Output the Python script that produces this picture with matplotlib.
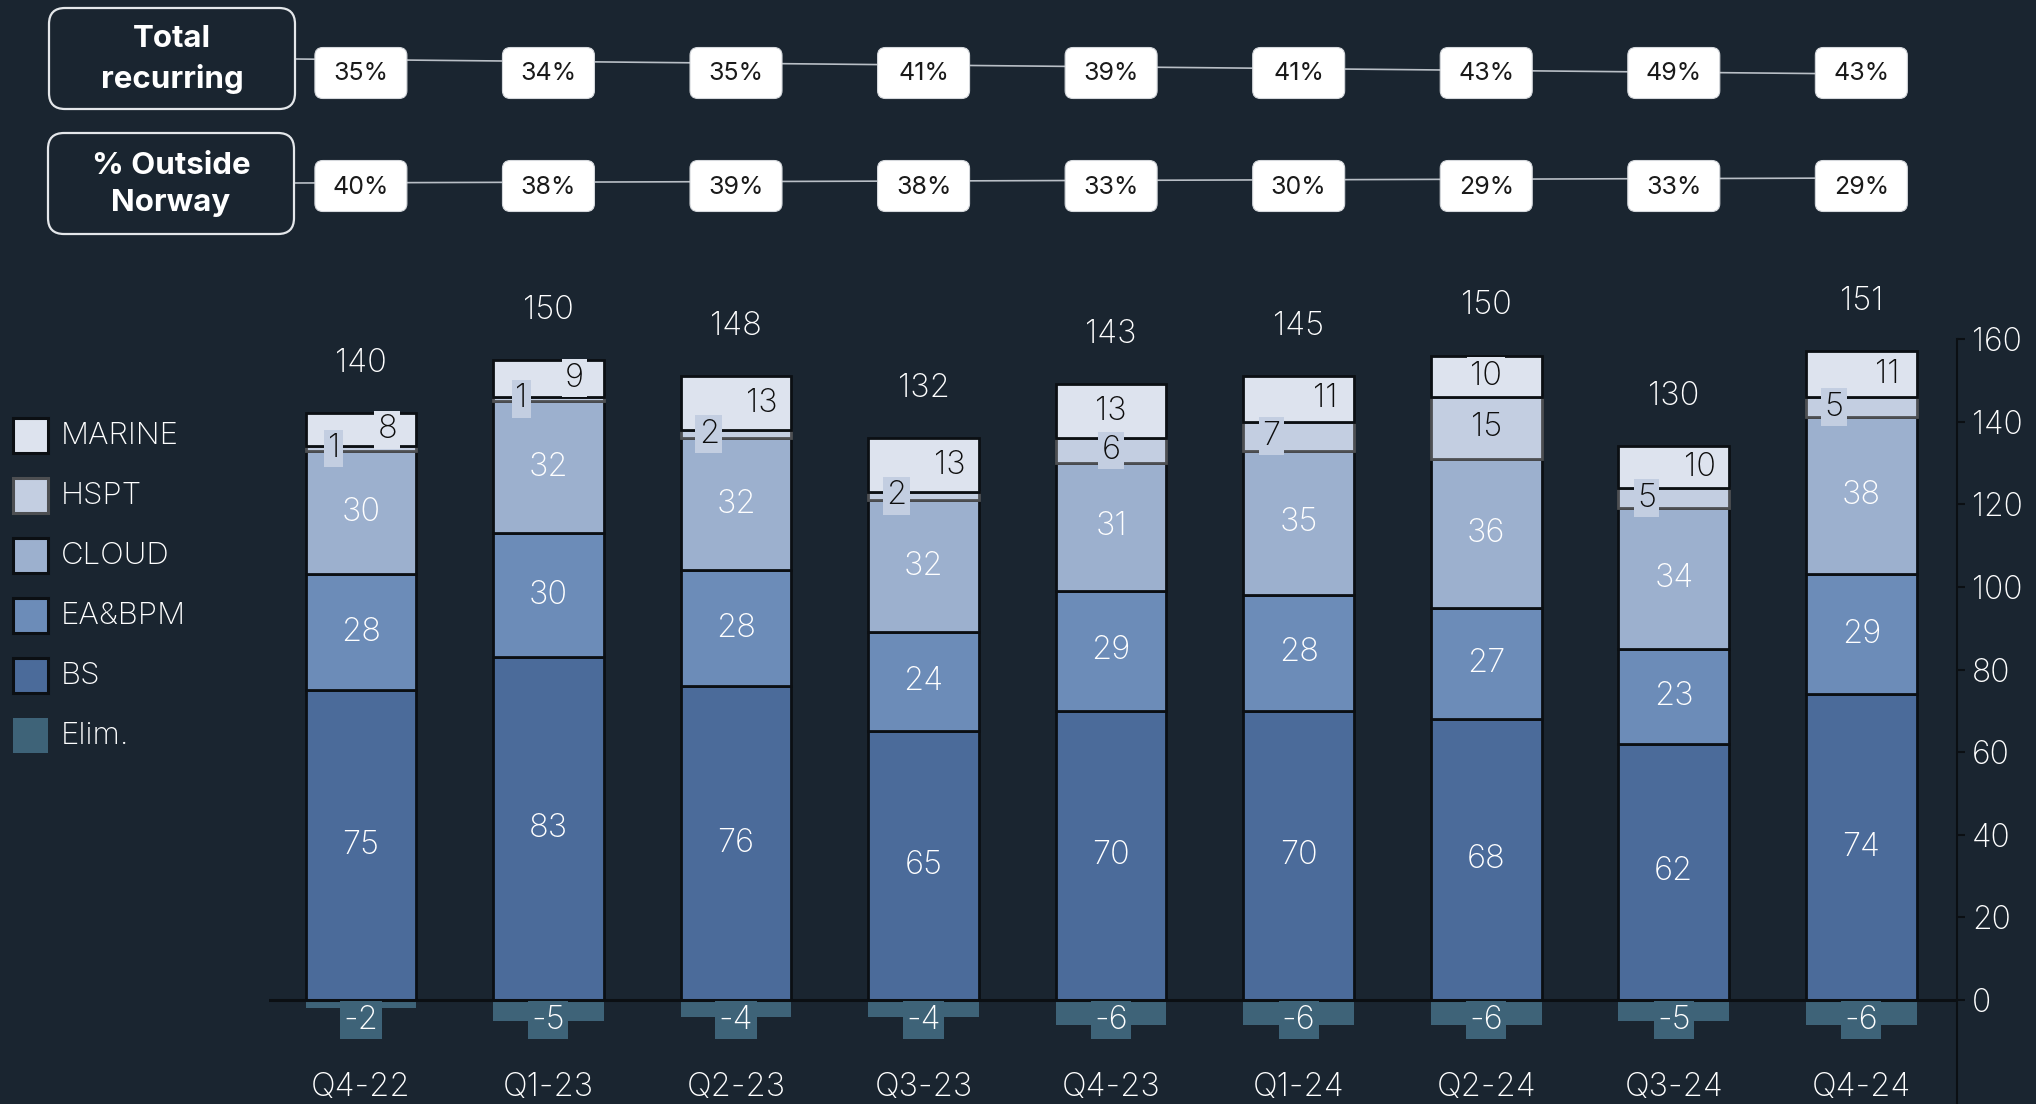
import matplotlib
matplotlib.use("Agg")
import matplotlib.pyplot as plt
from matplotlib.patches import FancyBboxPatch, Rectangle
import numpy as np

# ---------------- data ----------------
quarters = ["Q4-22", "Q1-23", "Q2-23", "Q3-23", "Q4-23", "Q1-24", "Q2-24", "Q3-24", "Q4-24"]
bs = [75, 83, 76, 65, 70, 70, 68, 62, 74]
ea_bpm = [28, 30, 28, 24, 29, 28, 27, 23, 29]
cloud = [30, 32, 32, 32, 31, 35, 36, 34, 38]
hspt = [1, 1, 2, 2, 6, 7, 15, 5, 5]
marine = [8, 9, 13, 13, 13, 11, 10, 10, 11]
elim = [-2, -5, -4, -4, -6, -6, -6, -5, -6]
totals = [140, 150, 148, 132, 143, 145, 150, 130, 151]
total_recurring = [35, 34, 35, 41, 39, 41, 43, 49, 43]
outside_norway = [40, 38, 39, 38, 33, 30, 29, 33, 29]

# ---------------- layout / style ----------------
hspt_dx = [-0.145, -0.145, -0.145, -0.145, 0.0, -0.145, 0.0, -0.145, -0.145]
marine_dx = [0.14, 0.14, 0.14, 0.14, 0.0, 0.14, 0.0, 0.14, 0.14]

W, H = 2036, 1104
BG = "#1a2530"
C_MARINE = "#dde3ee"
C_HSPT = "#c3cee1"
C_CLOUD = "#9cb0ce"
C_EA = "#6c8cb8"
C_BS = "#4b6b9a"
C_ELIM = "#3e6378"
EDGE = "#0b0f13"
EDGE_HSPT = "#4d4f52"
WHITE = "#ffffff"
DARK = "#0d0d0d"
FONT = "Inter"
LW = "light"

plt.rcParams["font.family"] = [FONT, "DejaVu Sans"]

fig = plt.figure(figsize=(W / 100, H / 100), dpi=100, facecolor=BG)

ymin, ymax = -25, 160
ppu = (1000 - 339) / 160.0
bottom_px = 1000 + (-ymin) * ppu
ax = fig.add_axes([269 / W, (H - bottom_px) / H, (1957 - 269) / W, (bottom_px - 339) / H])
ax.set_facecolor(BG)
ax.set_xlim(-0.49, 8.51)
ax.set_ylim(ymin, ymax)

x = np.arange(len(quarters))
bw = 0.59

ax.bar(x, elim, bw, color=C_ELIM, edgecolor="none", zorder=2)

series = [(bs, C_BS, EDGE), (ea_bpm, C_EA, EDGE), (cloud, C_CLOUD, EDGE),
          (hspt, C_HSPT, EDGE_HSPT), (marine, C_MARINE, EDGE)]
bottom = np.zeros(len(x))
centers = []
for vals, col, ec in series:
    v = np.array(vals, dtype=float)
    ax.bar(x, v, bw, bottom=bottom, color=col, edgecolor=ec, linewidth=2.0, zorder=3)
    centers.append(bottom + v / 2)
    bottom = bottom + v
top = bottom

ax.axhline(0, color=EDGE, lw=2.2, zorder=4)

fs = 23.5
for i in x:
    for k, vals in enumerate([bs, ea_bpm, cloud]):
        ax.text(i, centers[k][i], str(vals[i]), ha="center", va="center",
                color=WHITE, fontsize=fs, fontweight=LW, zorder=6)
    ax.text(i + hspt_dx[i], centers[3][i], str(hspt[i]), ha="center", va="center",
            color=DARK, fontsize=fs, fontweight=LW, zorder=7,
            bbox=dict(boxstyle="square,pad=0.1", fc=C_HSPT, ec="none"))
    ax.text(i + marine_dx[i], centers[4][i], str(marine[i]), ha="center", va="center",
            color=DARK, fontsize=fs, fontweight=LW, zorder=7,
            bbox=dict(boxstyle="square,pad=0.1", fc=C_MARINE, ec="none"))
    ax.text(i, top[i] + 12.0, str(totals[i]), ha="center", va="center",
            color=WHITE, fontsize=fs, fontweight=LW, zorder=6)
    ax.text(i, -4.9, str(elim[i]), ha="center", va="center", color=WHITE,
            fontsize=fs, fontweight=LW, zorder=6,
            bbox=dict(boxstyle="square,pad=0.1", fc=C_ELIM, ec="none"))
    ax.text(i, -21.3, quarters[i], ha="center", va="center", color=WHITE,
            fontsize=fs, fontweight=LW, zorder=6)

ax.yaxis.tick_right()
ax.set_yticks(range(0, 161, 20))
ax.set_xticks([])
for s in ["left", "top", "bottom"]:
    ax.spines[s].set_visible(False)
ax.spines["right"].set_color(EDGE)
ax.spines["right"].set_linewidth(1.5)
ax.spines["right"].set_bounds(ymin, 160)
ax.tick_params(axis="y", colors=EDGE, labelcolor=WHITE, length=6, width=1.5,
               labelsize=23, pad=5)
for t in ax.get_yticklabels():
    t.set_fontweight(LW)

# ---------------- overlay (pixel coordinates) ----------------
ov = fig.add_axes([0, 0, 1, 1], zorder=5)
ov.set_xlim(0, W)
ov.set_ylim(H, 0)
ov.axis("off")
ov.patch.set_alpha(0)

cx = [ax.transData.transform((i, 0))[0] for i in x]

# header boxes
for (x0, y0, x1, y1, txt) in [(49, 8, 295, 109, "Total\nrecurring"),
                              (48, 133, 294, 234, "% Outside\nNorway")]:
    ov.add_patch(FancyBboxPatch((x0, y0), x1 - x0, y1 - y0,
                                boxstyle="round,pad=0,rounding_size=16",
                                fc=BG, ec="#e4e7ea", lw=1.6, zorder=2))
    ov.text((x0 + x1) / 2, (y0 + y1) / 2 + 1, txt, ha="center", va="center",
            color=WHITE, fontsize=22.5, fontweight="bold", linespacing=1.45, zorder=3)

rows = [(total_recurring, 73, 59, 74, 295), (outside_norway, 186, 183, 178, 294)]
for vals, yc, yl, yr, xl in rows:
    ov.plot([xl, cx[-1]], [yl, yr], color="#b9bfc6", lw=1.2, zorder=1)
    for i, v in enumerate(vals):
        ov.add_patch(FancyBboxPatch((cx[i] - 46, yc - 25.5), 92, 51,
                                    boxstyle="round,pad=0,rounding_size=8",
                                    fc="white", ec="#d5d8dc", lw=0.8, zorder=2))
        ov.text(cx[i], yc + 1, f"{v}%", ha="center", va="center", color="#1a1a1a",
                fontsize=18, zorder=3)

# legend
legend_items = [("MARINE", C_MARINE, EDGE), ("HSPT", C_HSPT, EDGE_HSPT),
                ("CLOUD", C_CLOUD, EDGE), ("EA&BPM", C_EA, EDGE),
                ("BS", C_BS, EDGE), ("Elim.", C_ELIM, "none")]
for k, (name, col, ec) in enumerate(legend_items):
    yc = 435 + 60 * k
    ov.add_patch(Rectangle((13, yc - 17.5), 35, 35, fc=col, ec=ec, lw=2.2, zorder=2))
    ov.text(61, yc + 1, name, ha="left", va="center", color=WHITE, fontsize=22.5,
            fontweight=LW, zorder=3)

fig.savefig("out.png", dpi=100, facecolor=BG)
